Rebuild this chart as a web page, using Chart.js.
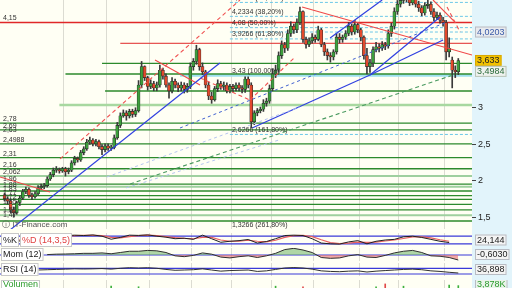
<!DOCTYPE html>
<html>
<head>
<meta charset="utf-8">
<script src="https://cdn.jsdelivr.net/npm/chart.js@4.4.1/dist/chart.umd.min.js"></script>
<style>
  body { margin: 0; width: 512px; height: 288px; overflow: hidden; position: relative;
         background: linear-gradient(to right, #fffff4 472px, #e2f4fb 472px); }
  canvas { position: absolute; left: 0; }
</style>
</head>
<body>
<canvas id="main" width="512" height="229" style="top:0"></canvas>
<canvas id="stoch" width="512" height="14" style="top:233px"></canvas>
<canvas id="mom" width="512" height="13" style="top:248px"></canvas>
<canvas id="rsi" width="512" height="13" style="top:263px"></canvas>
<canvas id="vol" width="512" height="9" style="top:280px"></canvas>
<script>
// candles, one row = 10 sessions
const openPrices = [
  1.80,1.75,1.72,1.60,1.56,1.70,1.76,1.85,1.88,1.80,
  1.78,1.82,1.90,1.92,1.93,2.02,2.08,2.14,2.15,2.13,
  2.16,2.12,2.14,2.24,2.30,2.28,2.38,2.43,2.52,2.55,
  2.50,2.53,2.46,2.42,2.47,2.44,2.45,2.58,2.75,2.88,
  2.92,2.88,2.94,2.90,2.95,3.30,3.55,3.40,3.28,3.32,
  3.26,3.30,3.50,3.42,3.30,3.22,3.35,3.30,3.26,3.30,
  3.24,3.28,3.55,3.62,3.78,3.55,3.48,3.30,3.15,3.10,
  3.25,3.32,3.28,3.30,3.22,3.28,3.25,3.30,3.26,3.24,
  3.38,3.30,2.80,2.92,2.95,2.97,3.05,3.08,3.25,3.45,
  3.50,3.70,3.85,3.80,4.00,4.10,4.05,4.15,4.30,3.92,
  3.85,3.90,3.95,3.92,4.05,3.85,3.75,3.70,3.68,3.75,
  3.95,3.92,3.95,4.00,4.10,4.02,4.12,4.05,3.95,3.70,
  3.55,3.60,3.78,3.82,3.80,3.85,3.83,4.00,4.10,4.30,
  4.40,4.45,4.50,4.48,4.42,4.46,4.40,4.35,4.28,4.38,
  4.40,4.30,4.22,4.25,4.18,4.15,3.75,3.64,3.50,3.48
];
const highPrices = [
  1.83,1.78,1.75,1.64,1.72,1.79,1.88,1.91,1.90,1.83,
  1.85,1.93,1.95,1.96,2.05,2.11,2.17,2.19,2.17,2.18,
  2.18,2.17,2.27,2.33,2.32,2.41,2.46,2.56,2.59,2.57,
  2.56,2.55,2.49,2.50,2.50,2.48,2.62,2.79,2.92,2.96,
  2.95,2.97,2.97,2.99,3.36,3.62,3.56,3.42,3.37,3.35,
  3.34,3.57,3.53,3.45,3.33,3.40,3.38,3.33,3.34,3.33,
  3.32,3.60,3.66,3.84,3.80,3.60,3.50,3.34,3.20,3.28,
  3.37,3.35,3.34,3.33,3.31,3.31,3.33,3.33,3.29,3.41,
  3.41,3.33,2.95,2.98,3.00,3.10,3.12,3.30,3.52,3.57,
  3.75,3.90,3.88,4.05,4.16,4.13,4.20,4.36,4.31,3.95,
  3.94,4.00,3.98,4.10,4.07,3.88,3.79,3.74,3.78,4.00,
  4.00,3.98,4.04,4.15,4.13,4.18,4.14,4.07,3.97,3.80,
  3.65,3.82,3.88,3.86,3.89,3.88,4.05,4.14,4.35,4.45,
  4.50,4.56,4.56,4.52,4.50,4.49,4.44,4.38,4.42,4.45,
  4.43,4.34,4.29,4.28,4.22,4.18,3.94,3.68,3.56,3.66
];
const lowPrices = [
  1.72,1.68,1.56,1.50,1.54,1.66,1.74,1.82,1.77,1.74,
  1.76,1.80,1.88,1.89,1.91,2.00,2.05,2.11,2.10,2.11,
  2.06,2.09,2.12,2.21,2.25,2.26,2.35,2.41,2.49,2.47,
  2.47,2.43,2.35,2.39,2.41,2.41,2.43,2.56,2.72,2.86,
  2.82,2.85,2.86,2.87,2.93,3.26,3.36,3.23,3.25,3.22,
  3.22,3.27,3.38,3.27,3.12,3.19,3.26,3.21,3.22,3.19,
  3.20,3.25,3.50,3.58,3.50,3.44,3.26,3.10,3.05,3.08,
  3.21,3.24,3.23,3.19,3.19,3.21,3.22,3.22,3.19,3.20,
  3.26,2.72,2.76,2.88,2.92,2.94,3.01,3.05,3.22,3.40,
  3.47,3.66,3.74,3.77,3.96,4.00,4.01,4.12,3.88,3.80,
  3.82,3.87,3.88,3.90,3.82,3.70,3.64,3.61,3.64,3.72,
  3.87,3.88,3.92,3.97,3.98,3.99,4.01,3.90,3.65,3.45,
  3.47,3.55,3.75,3.75,3.77,3.78,3.80,3.96,4.06,4.26,
  4.36,4.41,4.43,4.38,4.39,4.36,4.30,4.24,4.25,4.34,
  4.26,4.17,4.19,4.14,4.10,3.64,3.68,3.26,3.40,3.44
];
const closePrices = [
  1.75,1.72,1.60,1.56,1.70,1.76,1.85,1.88,1.80,1.78,
  1.82,1.90,1.92,1.93,2.02,2.08,2.14,2.15,2.13,2.16,
  2.12,2.14,2.24,2.30,2.28,2.38,2.43,2.52,2.55,2.50,
  2.53,2.46,2.42,2.47,2.44,2.45,2.58,2.75,2.88,2.92,
  2.88,2.94,2.90,2.95,3.30,3.55,3.40,3.28,3.32,3.26,
  3.30,3.50,3.42,3.30,3.22,3.35,3.30,3.26,3.30,3.24,
  3.28,3.55,3.62,3.78,3.55,3.48,3.30,3.15,3.10,3.25,
  3.32,3.28,3.30,3.22,3.28,3.25,3.30,3.26,3.24,3.38,
  3.30,2.80,2.92,2.95,2.97,3.05,3.08,3.25,3.45,3.50,
  3.70,3.85,3.80,4.00,4.10,4.05,4.15,4.30,3.92,3.85,
  3.90,3.95,3.92,4.05,3.85,3.75,3.70,3.68,3.75,3.95,
  3.92,3.95,4.00,4.10,4.02,4.12,4.05,3.95,3.70,3.55,
  3.60,3.78,3.82,3.80,3.85,3.83,4.00,4.10,4.30,4.40,
  4.45,4.50,4.48,4.42,4.46,4.40,4.35,4.28,4.38,4.40,
  4.30,4.22,4.25,4.18,4.15,3.75,3.80,3.50,3.48,3.633
];
const monthStarts = [20, 34, 48, 62, 75, 88, 102, 117, 130, 145];

// horizontal levels (price, first session)
const greenLevels = [2.78, 2.69, 2.4988, 2.31, 2.16, 1.95, 1.857, 1.793, 1.744, 1.676, 1.599, 1.449];
const paleGreenLevels = [2.062, 1.915, 1.527];
const upperGreen = [3.594, 3.449, 3.218];
const upperGreenFrom = [32, 20, 33];
const paleUpper = 3.027, paleUpperFrom = 18;
const redLevels = [4.15, 3.867];
const redFrom = [-2, 38];
const levelText = ['4,15', '2,78', '2,69', '2,63', '2,4988', '2,31', '2,16', '2,062', '1,96', '1,88', '1,83', '1,77', '1,72', '1,65', '1,55', '1,47'];
const levelTextAt = [4.15, 2.78, 2.69, 2.63, 2.4988, 2.31, 2.16, 2.062, 1.96, 1.88, 1.83, 1.77, 1.72, 1.65, 1.55, 1.47];

// fibonacci retracement, high 4.73 / low 3.43
const fibLevels = [4.4232, 4.2334, 4.08, 3.9266, 3.43, 2.6266, 1.3266];
const fibText = ['4,4232 (23,60%)', '4,2334 (38,20%)', '4,08 (50,00%)', '3,9266 (61,80%)', '3,43 (100,00%)', '2,6266 (161,80%)', '1,3266 (261,80%)'];
const fibFrom = 74;

// trend lines: [session, price, session, price]
const blueLines = [[1.8, 1.327, 70.7, 3.599], [81.3, 2.714, 120, 3.435], [120, 3.435, 143, 4.225], [120, 3.435, 144, 3.912], [106.9, 3.939, 124, 4.456]];
const redLines = [[97.7, 4.361, 153.5, 3.707], [49.4, 3.64, 64.2, 3.299], [-1.5, 2.048, 14.9, 1.844], [140.7, 4.456, 147.9, 4.156]];
const redDashed = [[18.2, 2.293, 77.3, 4.456], [64.2, 3.395, 80.6, 3.095], [80.6, 3.095, 95.4, 3.68], [145.3, 4.361, 149.6, 4.02]];
const greenDashed = [[41.2, 1.952, 147.3, 3.435]];
const blueDashed = [[57.6, 2.714, 145.3, 4.156]];
const paleDashed = [[33.6, 2.048, 97, 3.0], [40, 1.90, 90, 2.55]];

// right side value tags
const tagValues = [4.0203, 3.633, 3.4984];
const tagText = ['4,0203', '3,633', '3,4984'];
const priceTicks = [1.5, 2, 2.5, 3];

// indicators, one value every 3 sessions (sessions 2, 5, ... 149)
const stochK = [55,42,58,64,60,74,84,88,85,90, 80,56,70,88,86,90,80,72,60,64, 55,88,60,32,40,45,54,26,38,60, 85,88,85,60,26,20,18,35,45,20, 40,50,55,75,80,70,55,40,30,null];
const stochD = [58,50,52,60,62,68,78,85,86,87, 84,70,66,76,84,88,84,76,68,63, 60,70,70,50,40,40,48,40,36,48, 70,84,86,76,52,30,22,26,34,32, 34,42,50,62,74,75,66,52,40,null];
const momValues = [null,null,null,null,0.05,0.10,0.12,0.15,0.20,0.20, 0.25,0.15,0.30,0.45,0.45,0.55,0.50,0.30,-0.10,-0.20, -0.05,0.25,0.10,-0.25,-0.35,-0.20,-0.10,-0.30,-0.10,0.20, 0.65,0.80,0.60,0.30,-0.30,-0.40,-0.35,-0.10,0.05,-0.25, -0.30,-0.05,0.25,0.45,0.55,0.30,-0.10,-0.15,-0.30,-0.603];
const rsiValues = [null,null,null,58,60,62,64,66,65,66, 68,64,70,74,72,74,70,62,56,58, 60,66,58,50,54,56,58,48,52,62, 72,75,72,64,52,48,46,50,52,44, 50,54,58,62,64,60,52,48,42,36.9];
const volValues = [0.4,0.5,0.3,0.4,0.5,0.4,0.3,0.5,0.4,0.5, 0.4,2.5,0.5,0.4,2.0,0.5,0.4,0.3,0.5,0.4, 0.3,0.5,0.4,0.4,0.5,0.3,0.4,0.5,0.4,2.5, 0.4,0.5,2.0,0.4,0.5,0.3,0.4,0.5,0.4,0.5, 2.0,4.5,0.4,2.5,0.5,0.4,0.5,0.4,3.5,3.0];
const oscTags = ['24,144', '-0,6030', '36,898', '3,878K'];

const X_MIN = -1.5, X_MAX = 153.5;
const FONT = "'Liberation Sans', Arial, sans-serif";
const sessions = closePrices.map((_, i) => i);
const oscSessions = stochK.map((_, k) => k * 3 + 2);

function segment(l, color, width, dash) {
  return { type: 'line', data: [{ x: l[0], y: l[1] }, { x: l[2], y: l[3] }], borderColor: color,
           borderWidth: width, borderDash: dash || [], pointRadius: 0, order: 1 };
}
function level(p, from, color, width, dash) {
  return segment([from, p, X_MAX, p], color, width, dash);
}

const levelSets = [];
greenLevels.forEach(p => levelSets.push(level(p, X_MIN, '#2c8a2c', 1.3)));
paleGreenLevels.forEach(p => levelSets.push(level(p, X_MIN, '#9fd09f', 2)));
upperGreen.forEach((p, i) => levelSets.push(level(p, upperGreenFrom[i], '#2c8a2c', 1.3)));
levelSets.push(level(paleUpper, paleUpperFrom, '#a8d8a0', 2.5));
redLevels.forEach((p, i) => levelSets.push(level(p, redFrom[i], '#e02828', i === 0 ? 1.6 : 1)));
levelSets.push(level(3.43, 57.6, '#9ee0f0', 2.5));
fibLevels.forEach((p, i) => { if (p !== 3.43) levelSets.push(level(p, fibFrom, '#6cc8e8', 1, [3, 2])); });
levelSets.push(level(4.0203, fibFrom, '#6cc8e8', 1, [3, 2]));
levelSets.forEach(d => d.order = 6);

const trendSets = [];
paleDashed.forEach(l => trendSets.push(segment(l, '#b4c4f0', 1, [3, 3])));
blueLines.forEach(l => trendSets.push(segment(l, '#3040e0', 1.2)));
redLines.forEach(l => trendSets.push(segment(l, '#f04848', 1.1)));
redDashed.forEach(l => trendSets.push(segment(l, '#f05050', 1.1, [4, 3])));
greenDashed.forEach(l => trendSets.push(segment(l, '#4a9a60', 1.1, [4, 3])));
blueDashed.forEach(l => trendSets.push(segment(l, '#4060d0', 1, [3, 3])));

const axisRight = {
  position: 'right', afterFit: s => { s.width = 40; },
  border: { display: false }, grid: { drawOnChartArea: false, drawTicks: false }, ticks: { display: false }
};
const xAxis = {
  type: 'linear', min: X_MIN, max: X_MAX, offset: false, afterFit: s => { s.height = 0; },
  afterBuildTicks: s => { s.ticks = monthStarts.map(v => ({ value: v - 0.5 })); },
  ticks: { display: false }, border: { display: false },
  grid: { color: '#dcdcd2', drawTicks: false, offset: false }
};

const backdrop = {
  id: 'backdrop',
  beforeDraw(chart) {
    const { ctx, chartArea: a } = chart;
    ctx.save();
    ctx.fillStyle = '#fffff4';
    ctx.fillRect(0, 0, a.right, chart.height);
    ctx.fillStyle = '#e2f4fb';
    ctx.fillRect(a.right, 0, chart.width - a.right, chart.height);
    ctx.restore();
  }
};

function tag(ctx, text, x, y, bg, fg, border) {
  ctx.font = '9px ' + FONT;
  const w = ctx.measureText(text).width + 4;
  ctx.fillStyle = bg; ctx.fillRect(x, y - 5.5, w, 11);
  ctx.strokeStyle = border; ctx.lineWidth = 1; ctx.strokeRect(x + 0.5, y - 5, w - 1, 10);
  ctx.fillStyle = fg; ctx.textBaseline = 'middle'; ctx.textAlign = 'left';
  ctx.fillText(text, x + 2, y + 0.5);
}

const mainText = {
  id: 'mainText',
  afterDraw(chart) {
    const { ctx, scales: { x, y } } = chart;
    ctx.save();
    ctx.font = '7px ' + FONT; ctx.fillStyle = '#333'; ctx.textBaseline = 'bottom';
    levelText.forEach((t, i) => ctx.fillText(t, 3, y.getPixelForValue(levelTextAt[i]) - 0.5));
    const fx = x.getPixelForValue(fibFrom) + 2;
    fibText.forEach((t, i) => ctx.fillText(t, fx, Math.min(y.getPixelForValue(fibLevels[i]) - 1, 229)));
    ctx.font = '8px ' + FONT; ctx.fillStyle = '#555';
    ctx.fillText('\u24D8 IT-Finance.com', 2, 229);
    // price ticks
    ctx.font = '9px ' + FONT; ctx.fillStyle = '#222'; ctx.textBaseline = 'middle';
    ctx.strokeStyle = '#444';
    priceTicks.forEach(v => {
      const py = Math.round(y.getPixelForValue(v)) + 0.5;
      ctx.beginPath(); ctx.moveTo(472, py); ctx.lineTo(476, py); ctx.stroke();
      ctx.fillText(String(v).replace('.', ','), 478, py);
    });
    tag(ctx, tagText[0], 475, y.getPixelForValue(tagValues[0]), '#e8eaee', '#3a5aa8', '#b8bcc4');
    tag(ctx, tagText[1], 475, y.getPixelForValue(tagValues[1]), '#f2c200', '#222', '#d8a800');
    tag(ctx, tagText[2], 475, y.getPixelForValue(tagValues[2]) + 1, '#eef2ee', '#2a6a3a', '#b8c4b8');
    ctx.restore();
  }
};

new Chart(document.getElementById('main'), {
  type: 'bar',
  data: {
    datasets: [
      ...levelSets,
      ...trendSets,
      { label: 'wick', data: sessions.map(i => ({ x: i, y: [lowPrices[i], highPrices[i]] })),
        backgroundColor: '#3a3a3a', barThickness: 1, grouped: false, order: 3 },
      { label: 'body', data: sessions.map(i => ({ x: i, y: [openPrices[i], closePrices[i]] })),
        backgroundColor: sessions.map(i => closePrices[i] >= openPrices[i] ? '#3ca03c' : '#e2492c'),
        borderColor: '#2a2a2a', borderWidth: 0.6, borderSkipped: false, minBarLength: 1,
        barThickness: 3, grouped: false, order: 2 }
    ]
  },
  options: {
    responsive: false, animation: false, devicePixelRatio: 1,
    layout: { padding: 0 },
    plugins: { legend: { display: false }, tooltip: { enabled: false } },
    scales: { x: xAxis, y: { ...axisRight, min: 1.34, max: 4.456 } }
  },
  plugins: [backdrop, mainText]
});

function panel(id, datasets, yMin, yMax, guides, labels, tagIdx, tagColors) {
  const guideSets = guides.map(g => level(g, X_MIN, '#3a3ad8', 1.2));
  const text = {
    id: 'panelText',
    afterDraw(chart) {
      const { ctx } = chart;
      ctx.save();
      ctx.font = '9px ' + FONT; ctx.textBaseline = 'middle';
      let lx = 1;
      labels.forEach(l => {
        const w = ctx.measureText(l[0]).width + 4;
        ctx.fillStyle = '#fff'; ctx.fillRect(lx, 0, w, chart.height);
        ctx.strokeStyle = '#c8c8c8'; ctx.strokeRect(lx + 0.5, 0.5, w - 1, chart.height - 1);
        ctx.fillStyle = l[1]; ctx.fillText(l[0], lx + 2, chart.height / 2 + 0.5);
        lx += w + 1;
      });
      tag(ctx, oscTags[tagIdx], 475, chart.height / 2, tagColors[0], tagColors[1], '#b8bcc4');
      ctx.restore();
    }
  };
  return new Chart(document.getElementById(id), {
    type: 'line',
    data: { datasets: [...guideSets.map(d => (d.order = 5, d)), ...datasets] },
    options: {
      responsive: false, animation: false, devicePixelRatio: 1,
      layout: { padding: 0 },
      plugins: { legend: { display: false }, tooltip: { enabled: false } },
      scales: { x: xAxis, y: { ...axisRight, min: yMin, max: yMax } }
    },
    plugins: [backdrop, text]
  });
}
const pts = arr => arr.map((v, k) => ({ x: oscSessions[k], y: v }));

panel('stoch', [
  { data: pts(stochD), borderColor: '#e86060', borderWidth: 1.2, pointRadius: 0, order: 2 },
  { data: pts(stochK), borderColor: '#202020', borderWidth: 1, pointRadius: 0, order: 1 }
], -5, 105, [80, 20], [['%K', '#222'], ['%D (14,3,5)', '#e04040']], 0, ['#f4f4f4', '#222']);

panel('mom', [
  { data: pts(momValues), borderColor: '#303030', borderWidth: 1, pointRadius: 0, order: 1,
    fill: { target: { value: 0 }, above: 'rgba(110,180,100,0.55)', below: 'rgba(232,110,110,0.6)' } }
], -0.72, 0.84, [0], [['Mom (12)', '#222']], 1, ['#f4f4f4', '#222']);

panel('rsi', [
  { data: pts(rsiValues), borderColor: '#303030', borderWidth: 1, pointRadius: 0, order: 1 }
], 16, 107, [70, 30], [['RSI (14)', '#222']], 2, ['#f4f4f4', '#222']);

panel('vol', [
  { type: 'bar', data: pts(volValues), barThickness: 1, grouped: false,
    backgroundColor: oscSessions.map(i => closePrices[i] >= openPrices[i] ? '#3cb03c' : '#e04848') }
], 0, 8, [], [['Volumen', '#2a9a2a']], 3, ['#eaf4ea', '#2a9a2a']);
</script>
</body>
</html>
